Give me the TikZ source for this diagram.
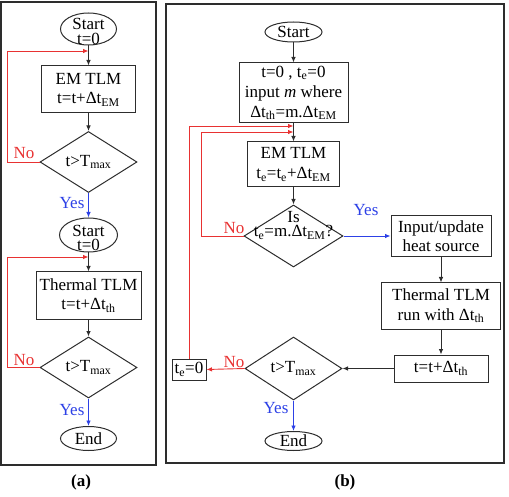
\documentclass[tikz,border=0pt]{standalone}
\usepackage{fontspec}
\setmainfont{Liberation Serif}
\usetikzlibrary{shapes.geometric,arrows.meta}
\definecolor{myred}{RGB}{232,50,50}
\definecolor{myblue}{RGB}{45,65,230}
\definecolor{lin}{RGB}{45,45,45}
\begin{document}
\begin{tikzpicture}[x=1pt,y=-1pt,font=\fontsize{17}{19.5}\selectfont,
  box/.style={draw=lin,line width=1pt,inner sep=0pt,align=center},
  ell/.style={draw=lin,ellipse,line width=1pt,inner sep=0pt},
  dia/.style={draw=lin,diamond,line width=1pt,inner sep=0pt},
  txt/.style={inner sep=0pt,align=center},
  btxt/.style={inner sep=0pt,anchor=base},
  arr/.style={-{Latex[length=5.5pt,width=4.5pt]},line width=0.9pt,draw=lin},
  rarr/.style={arr,draw=myred},
  barr/.style={arr,draw=myblue},
  rlab/.style={txt,text=myred},
  blab/.style={txt,text=myblue},
  frame/.style={draw=lin,line width=1.3pt}]
\useasboundingbox (0,0) rectangle (509,497);
\draw[frame] (1,2) rectangle (156,465);
\draw[frame] (166,4) rectangle (504,463);
% ---------- panel (a)
\node[ell,minimum width=56,minimum height=32] (s1) at (88.5,29) {};
\node[btxt] (s1a) at (88.5,30) {Start};
\node[btxt] (s1b) at (88.5,44.5) {t=0};
\node[box,minimum width=94,minimum height=47] (em1) at (88.5,89.5) {EM TLM\\t=t+Δt\textsubscript{EM}};
\node[dia,minimum width=97,minimum height=61] (d1) at (88.5,162) {};
\node[txt] (d1t) at (d1) {t>T\textsubscript{max}};
\coordinate (j1) at (88.5,51);
\draw[arr] (s1.south) -- (em1.north);
\draw[arr] (em1.south) -- (d1.north);
\draw[rarr] (d1.west) -- ++(-32,0) |- (j1);
\node[rlab] (no1) at (24,153) {No};
\node[ell,minimum width=58,minimum height=34] (s2) at (88.5,235) {};
\node[btxt] (s2a) at (88.5,236.5) {Start};
\node[btxt] (s2b) at (88.5,251) {t=0};
\draw[barr] (d1.south) -- (s2.north);
\node[blab] (yes1) at (72,203) {Yes};
\node[box,minimum width=105,minimum height=47] (th1) at (88.5,295.5) {Thermal TLM\\t=t+Δt\textsubscript{th}};
\node[dia,minimum width=97,minimum height=61] (d2) at (88.5,367.5) {};
\node[txt] (d2t) at (d2) {t>T\textsubscript{max}};
\coordinate (j2) at (88.5,257);
\draw[arr] (s2.south) -- (th1.north);
\draw[arr] (th1.south) -- (d2.north);
\draw[rarr] (d2.west) -- ++(-32,0) |- (j2);
\node[rlab] (no2) at (24,360) {No};
\node[ell,minimum width=56,minimum height=24] (e1) at (88.5,438.5) {};
\node[txt] (e1t) at (e1) {End};
\draw[barr] (d2.south) -- (e1.north);
\node[blab] (yes2) at (72,410) {Yes};
\node[txt,font=\fontsize{17}{19.5}\selectfont\bfseries] (la) at (81,482) {(a)};
% ---------- panel (b)
\node[ell,minimum width=57,minimum height=20] (sb) at (293.5,32) {};
\node[txt] (sbt) at (sb) {Start};
\node[box,minimum width=109,minimum height=60,font=\fontsize{17}{20}\selectfont] (init) at (293.5,93) {t=0 , t\textsubscript{e}=0\\input \textit{m} where\\Δt\textsubscript{th}=m.Δt\textsubscript{EM}};
\node[box,minimum width=92,minimum height=45] (emb) at (293.5,164.5) {EM TLM\\t\textsubscript{e}=t\textsubscript{e}+Δt\textsubscript{EM}};
\node[dia,minimum width=99,minimum height=62] (db) at (293.5,236) {};
\node[btxt] (dba) at (293.5,223) {Is};
\node[btxt] (dbb) at (293.5,236.5) {t\textsubscript{e}=m.Δt\textsubscript{EM}?};
\coordinate (jb1) at (293.5,126);
\coordinate (jb2) at (293.5,132);
\draw[arr] (sb.south) -- (init.north);
\draw[arr] (init.south) -- (emb.north);
\draw[arr] (emb.south) -- (db.north);
\draw[rarr] (db.west) -- ++(-42,0) |- (jb2);
\node[rlab] (no3) at (234,228) {No};
\node[box,minimum width=100,minimum height=41] (inp) at (441,236) {Input/update\\heat source};
\draw[barr] (db.east) -- (inp.west);
\node[blab] (yes3) at (366,210) {Yes};
\node[box,minimum width=119,minimum height=46] (thb) at (441,306) {Thermal TLM\\run with Δt\textsubscript{th}};
\node[box,minimum width=94,minimum height=27] (tb) at (441,368.5) {t=t+Δt\textsubscript{th}};
\draw[arr] (inp.south) -- (thb.north);
\draw[arr] (thb.south) -- (tb.north);
\node[dia,minimum width=97,minimum height=63] (db2) at (293.5,368.5) {};
\node[txt] (db2t) at (db2) {t>T\textsubscript{max}};
\draw[arr] (tb.west) -- (db2.east);
\node[box,minimum width=34,minimum height=21] (te0) at (189,369.5) {t\textsubscript{e}=0};
\draw[rarr] (db2.west) -- (te0.east);
\node[rlab] (no4) at (234,362) {No};
\draw[rarr] (te0.north) |- (jb1);
\node[ell,minimum width=57,minimum height=19] (eb) at (293.5,441) {};
\node[txt] (ebt) at (eb) {End};
\draw[barr] (db2.south) -- (eb.north);
\node[blab] (yes4) at (276,408) {Yes};
\node[txt,font=\fontsize{17}{19.5}\selectfont\bfseries] (lb) at (345,482) {(b)};
\end{tikzpicture}
\end{document}
